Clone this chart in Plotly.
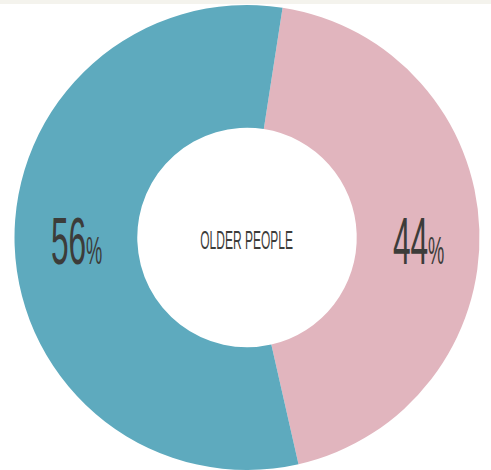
import plotly.graph_objects as go

labels = ["Women", "Men"]
values = [44, 56]
colors = ["#e1b5be", "#5eaabe"]
center_label = "OLDER PEOPLE"

W, H = 491, 470
font = "Liberation Sans, Arial, sans-serif"
ink = "#3c3c3a"

fig = go.Figure()
fig.add_trace(
    go.Pie(
        labels=labels,
        values=values,
        hole=0.472,
        sort=False,
        direction="clockwise",
        rotation=8.8,
        marker=dict(colors=colors, line=dict(width=0)),
        textinfo="none",
        hoverinfo="label+percent",
        domain=dict(x=[14 / W, 480 / W], y=[0, 465 / H]),
        showlegend=False,
    )
)


def pct_text(v):
    return f"{v}<span style='font-size:38px'>%</span>"


# big percentage labels inside each slice, small label in the hole
fig.add_annotation(x=76 / W, y=1 - 241 / H, text=pct_text(values[1]),
                   font=dict(family=font, size=66, color=ink))
fig.add_annotation(x=418.5 / W, y=1 - 241 / H, text=pct_text(values[0]),
                   font=dict(family=font, size=66, color=ink))
fig.add_annotation(x=246.5 / W, y=1 - 240 / H, text=center_label,
                   font=dict(family=font, size=25, color=ink))
fig.update_annotations(showarrow=False, xref="paper", yref="paper",
                       xanchor="center", yanchor="middle")

fig.update_layout(
    width=W,
    height=H,
    margin=dict(l=0, r=0, t=0, b=0),
    paper_bgcolor="white",
    plot_bgcolor="white",
    shapes=[
        dict(type="rect", xref="paper", yref="paper", x0=0, x1=1, y0=1 - 4 / H, y1=1,
             fillcolor="#f4f3ed", line=dict(width=0), layer="below")
    ],
)

# no condensed face installed: squeeze the label text horizontally instead,
# and drop the default body margin so the figure sits at the window's corner
squeeze = """
document.body.style.margin = '0';
var gd = document.getElementById('{plot_id}');
gd.querySelectorAll('text.annotation-text').forEach(function (t) {
    var b = t.getBBox();
    var cx = b.x + b.width / 2;
    var old = t.getAttribute('transform') || '';
    t.setAttribute('transform', old + ' translate(' + cx + ',0) scale(0.48,1) translate(' + (-cx) + ',0)');
});
"""

fig.write_html("out.html", post_script=squeeze, config={"displayModeBar": False})
